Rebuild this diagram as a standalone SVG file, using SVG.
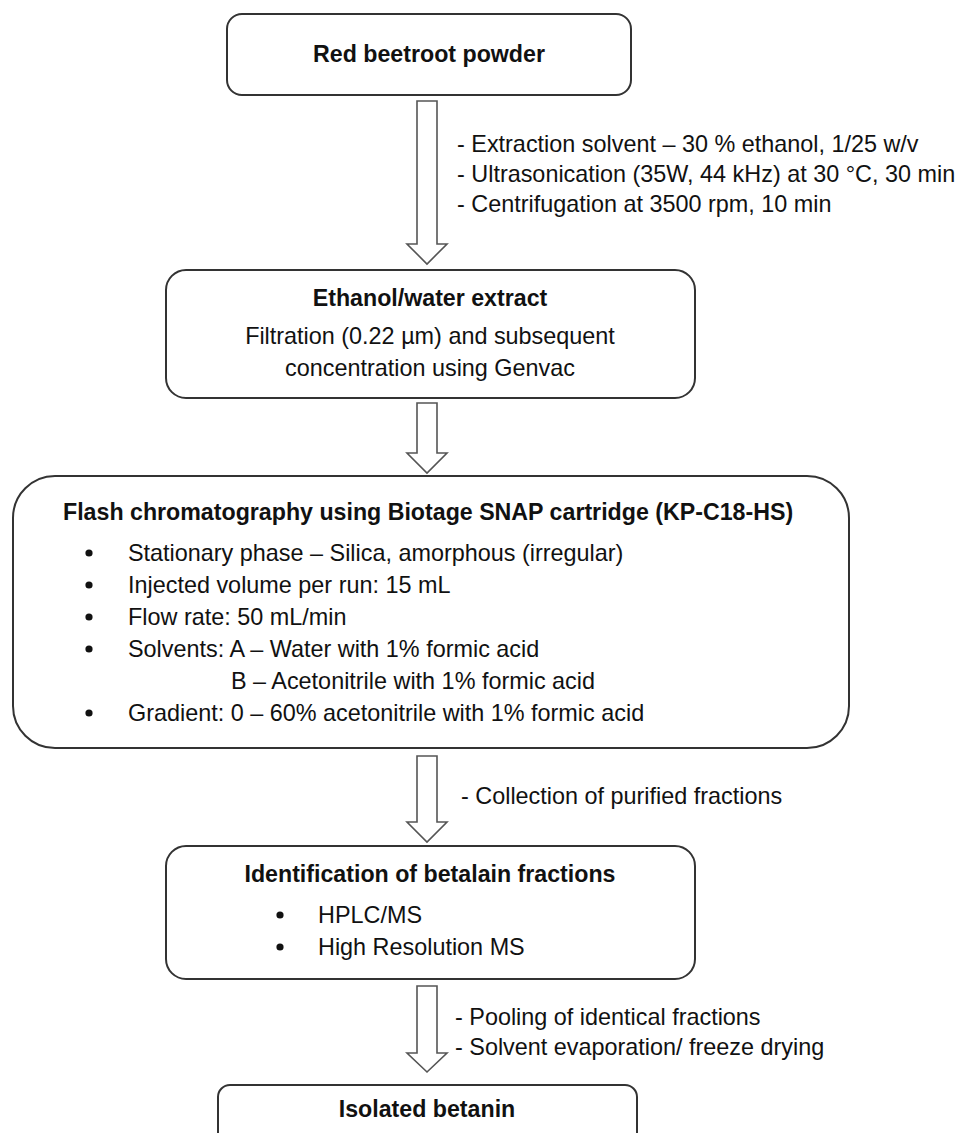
<svg xmlns="http://www.w3.org/2000/svg" width="959" height="1133" viewBox="0 0 959 1133">
<style>
.box{fill:#fff;stroke:#333;stroke-width:2}
.arr{fill:#fff;stroke:#555;stroke-width:1.6;stroke-linejoin:miter}
text{font-family:"Liberation Sans",Arial,sans-serif;font-size:23.4px;fill:#111}
.b{font-weight:bold;font-size:23.2px}
.c{text-anchor:middle}
.dot{fill:#111}
</style>
<rect width="959" height="1133" fill="#fff"/>
<g id="connectors">
<path class="arr" d="M417,101 L437,101 L437,244 L447,244 L427,264 L407,244 L417,244 Z"/>
<path class="arr" d="M417,403 L437,403 L437,453 L447,453 L427,473 L407,453 L417,453 Z"/>
<path class="arr" d="M417,756 L437,756 L437,822 L447,822 L427,842 L407,822 L417,822 Z"/>
<path class="arr" d="M417,986 L437,986 L437,1053 L447,1053 L427,1072 L407,1053 L417,1053 Z"/>
<text x="457" y="152">- Extraction solvent – 30 % ethanol, 1/25 w/v</text>
<text x="457" y="182">- Ultrasonication (35W, 44 kHz) at 30 °C, 30 min</text>
<text x="457" y="212">- Centrifugation at 3500 rpm, 10 min</text>
<text x="461" y="804">- Collection of purified fractions</text>
<text x="455" y="1025">- Pooling of identical fractions</text>
<text x="455" y="1055">- Solvent evaporation/ freeze drying</text>
</g>
<g id="node-powder">
<rect class="box" x="227" y="14" width="404" height="81" rx="15"/>
<text class="b c" x="429" y="62">Red beetroot powder</text>
</g>
<g id="node-extract">
<rect class="box" x="166" y="270" width="529" height="128" rx="20"/>
<text class="b c" x="430" y="306">Ethanol/water extract</text>
<text class="c" x="430" y="344">Filtration (0.22 µm) and subsequent</text>
<text class="c" x="430" y="376">concentration using Genvac</text>
</g>
<g id="node-flash">
<rect class="box" x="13" y="476" width="836" height="272" rx="42"/>
<text class="b" x="63" y="520">Flash chromatography using Biotage SNAP cartridge (KP-C18-HS)</text>
<circle class="dot" cx="89" cy="553" r="3.6"/><text x="128" y="561">Stationary phase – Silica, amorphous (irregular)</text>
<circle class="dot" cx="89" cy="585" r="3.6"/><text x="128" y="593">Injected volume per run: 15 mL</text>
<circle class="dot" cx="89" cy="617" r="3.6"/><text x="128" y="625">Flow rate: 50 mL/min</text>
<circle class="dot" cx="89" cy="649" r="3.6"/><text x="128" y="657">Solvents: A – Water with 1% formic acid</text>
<text x="231" y="689">B – Acetonitrile with 1% formic acid</text>
<circle class="dot" cx="89" cy="713" r="3.6"/><text x="128" y="721">Gradient: 0 – 60% acetonitrile with 1% formic acid</text>
</g>
<g id="node-identification">
<rect class="box" x="166" y="846" width="529" height="133" rx="20"/>
<text class="b c" x="430" y="882">Identification of betalain fractions</text>
<circle class="dot" cx="280" cy="915" r="3.6"/><text x="318" y="923">HPLC/MS</text>
<circle class="dot" cx="280" cy="947" r="3.6"/><text x="318" y="955">High Resolution MS</text>
</g>
<g id="node-betanin">
<rect class="box" x="218" y="1085" width="419" height="80" rx="12"/>
<text class="b c" x="427" y="1117">Isolated betanin</text>
</g>
</svg>
